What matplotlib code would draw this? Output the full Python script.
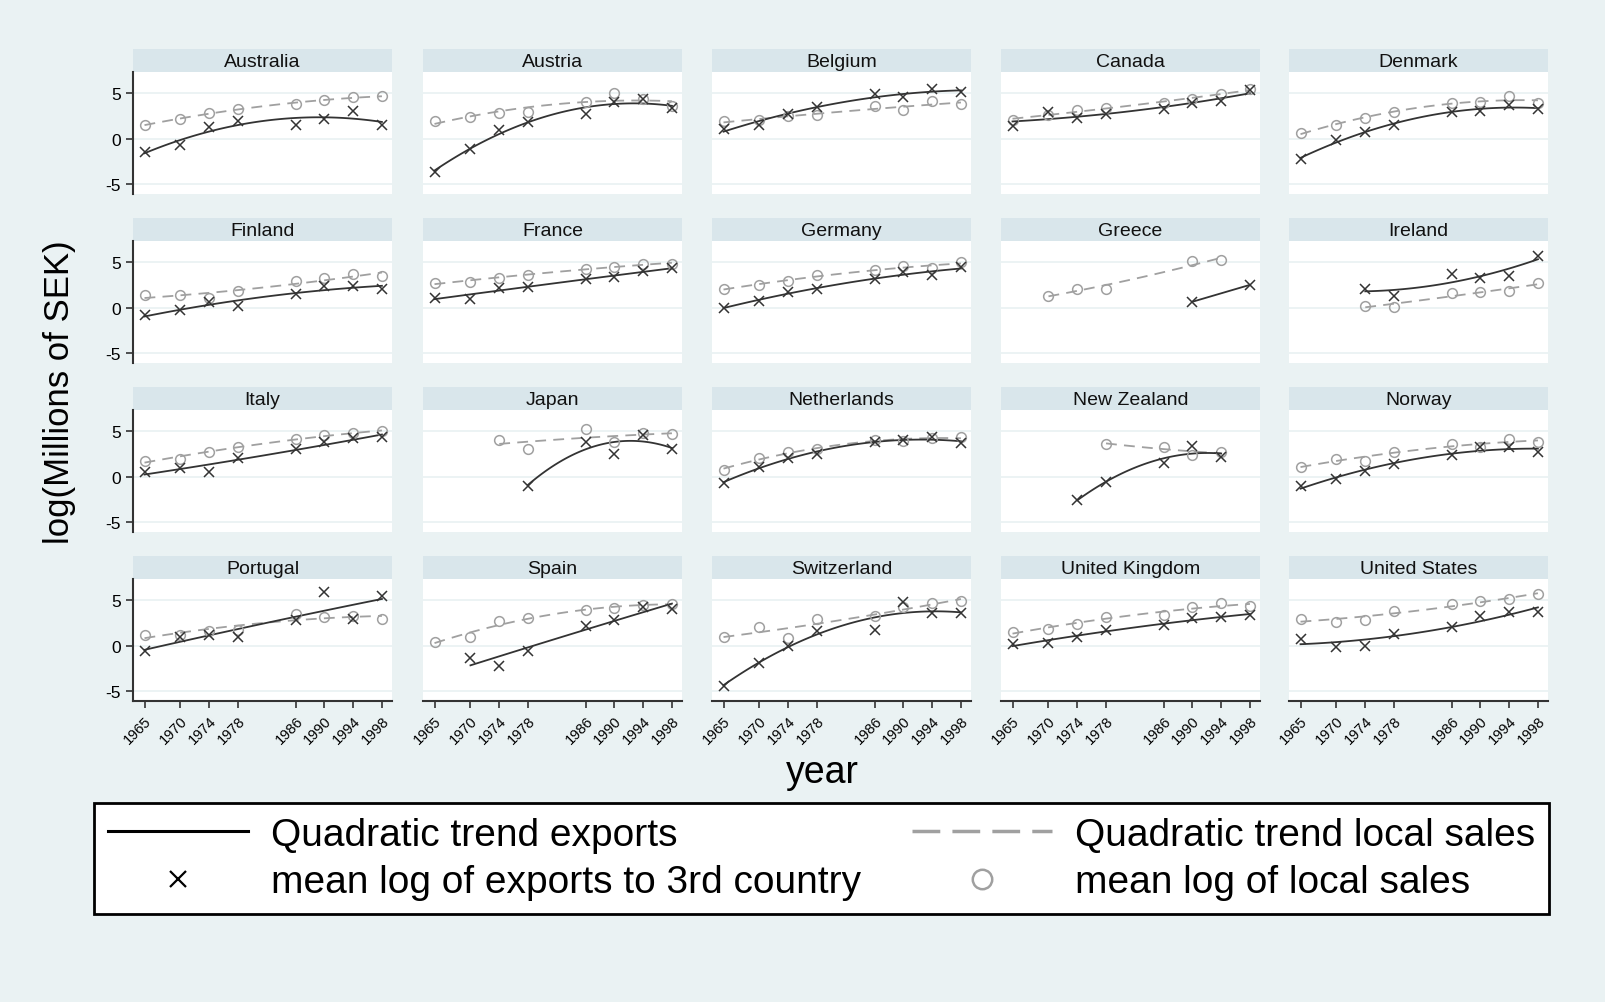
import numpy as np
import matplotlib
matplotlib.use("Agg")
import matplotlib.pyplot as plt
from matplotlib.lines import Line2D

plt.rcParams['font.family'] = ['Liberation Sans', 'DejaVu Sans']

nan = np.nan
years = [1965, 1970, 1974, 1978, 1986, 1990, 1994, 1998]
countries = ["Australia", "Austria", "Belgium", "Canada", "Denmark",
             "Finland", "France", "Germany", "Greece", "Ireland",
             "Italy", "Japan", "Netherlands", "New Zealand", "Norway",
             "Portugal", "Spain", "Switzerland", "United Kingdom", "United States"]

# mean log of exports to 3rd country (one row per country, one column per year)
exports = [
    [-1.5, -0.7, 1.3, 1.9, 1.45, 2.2, 3.05, 1.5],
    [-3.6, -1.15, 1.0, 1.8, 2.7, 4.0, 4.3, 3.4],
    [1.05, 1.5, 2.75, 3.5, 4.9, 4.55, 5.4, 5.15],
    [1.4, 2.95, 2.3, 2.7, 3.3, 3.9, 4.1, 5.3],
    [-2.25, -0.1, 0.7, 1.55, 2.95, 3.05, 3.7, 3.25],
    [-0.85, -0.3, 0.6, 0.2, 1.55, 2.4, 2.4, 2.05],
    [1.1, 1.0, 2.2, 2.3, 3.15, 3.4, 4.0, 4.3],
    [0.0, 0.7, 1.75, 2.1, 3.1, 3.9, 3.6, 4.45],
    [nan, nan, nan, nan, nan, 0.65, nan, 2.5],
    [nan, nan, 2.05, 1.3, 3.7, 3.3, 3.5, 5.7],
    [0.5, 0.9, 0.55, 2.1, 3.0, 3.8, 4.2, 4.3],
    [nan, nan, nan, -1.0, 3.8, 2.5, 4.6, 3.0],
    [-0.65, 1.1, 2.0, 2.5, 3.8, 4.05, 4.3, 3.7],
    [nan, nan, -2.5, -0.6, 1.5, 3.35, 2.2, nan],
    [-1.05, -0.3, 0.65, 1.4, 2.4, 3.25, 3.3, 2.7],
    [-0.55, 0.9, 1.2, 0.95, 2.85, 5.9, 2.9, 5.4],
    [nan, -1.3, -2.2, -0.55, 2.2, 2.85, 4.2, 4.05],
    [-4.4, -1.85, 0.0, 1.65, 1.7, 4.8, 3.55, 3.6],
    [0.2, 0.25, 1.0, 1.75, 2.3, 3.05, 3.15, 3.35],
    [0.75, -0.1, 0.0, 1.3, 2.05, 3.25, 3.7, 3.65],
]

# mean log of local sales
local_sales = [
    [1.45, 2.2, 2.8, 3.3, 3.8, 4.2, 4.55, 4.65],
    [1.9, 2.4, 2.8, 2.9, 4.0, 5.05, 4.3, 3.6],
    [1.9, 2.0, 2.5, 2.6, 3.6, 3.1, 4.1, 3.8],
    [2.1, 2.6, 3.1, 3.4, 3.9, 4.4, 4.9, 5.4],
    [0.65, 1.45, 2.3, 2.9, 3.9, 4.0, 4.65, 3.9],
    [1.35, 1.35, 1.05, 1.85, 2.9, 3.2, 3.7, 3.45],
    [2.7, 2.85, 3.3, 3.6, 4.25, 4.5, 4.8, 4.8],
    [2.05, 2.5, 2.9, 3.6, 4.1, 4.55, 4.3, 5.0],
    [nan, 1.25, 2.1, 2.05, nan, 5.1, 5.2, nan],
    [nan, nan, 0.2, 0.1, 1.6, 1.7, 1.8, 2.7],
    [1.75, 1.95, 2.7, 3.25, 4.15, 4.55, 4.8, 4.95],
    [nan, nan, 4.0, 3.0, 5.2, 3.8, 4.8, 4.7],
    [0.75, 2.05, 2.7, 3.0, 4.0, 3.95, 4.2, 4.3],
    [nan, nan, nan, 3.6, 3.3, 2.4, 2.7, nan],
    [1.1, 1.9, 1.75, 2.75, 3.6, 3.25, 4.15, 3.8],
    [1.2, 1.2, 1.6, 1.7, 3.5, 3.1, 3.3, 2.9],
    [0.4, 1.0, 2.65, 3.0, 3.95, 4.1, 4.45, 4.6],
    [0.95, 2.0, 0.85, 2.95, 3.2, 4.2, 4.7, 4.9],
    [1.45, 1.85, 2.4, 3.15, 3.4, 4.25, 4.7, 4.3],
    [2.95, 2.6, 2.85, 3.75, 4.55, 4.85, 5.15, 5.65],
]

BG = "#eaf2f3"
STRIP = "#d9e6eb"
DARK = "#333333"
GREY = "#a0a0a0"


def qfit(x, y):
    # quadratic trend over the observed range, like Stata's qfit
    x = np.asarray(x, float)
    y = np.asarray(y, float)
    ok = ~np.isnan(y)
    xs, ys = x[ok], y[ok]
    deg = min(2, len(xs) - 1)
    c = np.polyfit(xs - 1980, ys, deg)
    xx = np.linspace(xs.min(), xs.max(), 100)
    return xx, np.polyval(c, xx - 1980)


W, H = 1606, 1003
fig = plt.figure(figsize=(W / 100, H / 100), dpi=100, facecolor=BG)

lefts = [133, 423, 712, 1001, 1289]
pw, ph, sh = 259, 122, 23

for i, name in enumerate(countries):
    r, c = divmod(i, 5)
    top = 50 + 169 * r
    x0 = lefts[c]
    # strip with the country name
    sax = fig.add_axes([x0 / W, 1 - (top + sh) / H, pw / W, sh / H])
    sax.set_facecolor(STRIP)
    sax.set_xticks([]); sax.set_yticks([])
    for s in sax.spines.values():
        s.set_visible(False)
    sax.text(0.5, 0.45, name, ha='center', va='center', fontsize=14, color='#111111',
             transform=sax.transAxes)

    ax = fig.add_axes([x0 / W, 1 - (top + sh + ph) / H, pw / W, ph / H])
    ax.set_facecolor('white')
    ax.set_xlim(1963.4, 1999.4)
    ax.set_ylim(-6.05, 7.3)
    for yv in (-5, 0, 5):
        ax.axhline(yv, color=BG, lw=1.3, zorder=0)

    ex = np.array(exports[i], float)
    lo = np.array(local_sales[i], float)
    xx, yy = qfit(years, lo)
    ax.plot(xx, yy, color=GREY, lw=1.3, linestyle=(0, (6, 4)), zorder=2)
    xx, yy = qfit(years, ex)
    ax.plot(xx, yy, color=DARK, lw=1.3, zorder=3)
    ax.plot(years, lo, linestyle='none', marker='o', ms=7, mfc='none',
            mec=GREY, mew=1.1, zorder=4)
    ax.plot(years, ex, linestyle='none', marker='x', ms=7.5, color=DARK,
            mew=1.1, zorder=5)

    for s in ax.spines.values():
        s.set_visible(False)
    ax.set_yticks([-5, 0, 5])
    ax.set_xticks(years)
    if c == 0:
        ax.spines['left'].set_visible(True)
        ax.spines['left'].set_color(DARK)
        ax.spines['left'].set_linewidth(1.5)
        ax.tick_params(axis='y', length=5, width=1.2, color=DARK, labelsize=12.5)
        ax.set_yticklabels(['-5', '0', '5'])
    else:
        ax.tick_params(axis='y', length=0, labelleft=False)
    if r == 3:
        ax.spines['bottom'].set_visible(True)
        ax.spines['bottom'].set_color(DARK)
        ax.spines['bottom'].set_linewidth(1.5)
        ax.tick_params(axis='x', length=5, width=1.2, color=DARK, labelsize=10.5)
        ax.set_xticklabels([str(y) for y in years], rotation=45, ha='right',
                           rotation_mode='anchor')
    else:
        ax.tick_params(axis='x', length=0, labelbottom=False)

fig.text(60 / W, 1 - 392 / H, 'log(Millions of SEK)', rotation=90, ha='center',
         va='center', fontsize=25)
fig.text(822 / W, 1 - 773 / H, 'year', ha='center', va='center', fontsize=27)

handles = [
    Line2D([], [], color='black', lw=2.2),
    Line2D([], [], linestyle='none', marker='x', color='black', ms=12, mew=1.6),
    Line2D([], [], color=GREY, lw=2.5, linestyle=(0, (8, 3.5))),
    Line2D([], [], linestyle='none', marker='o', mfc='none', mec=GREY, ms=14, mew=1.8),
]
labels = ['Quadratic trend exports', 'mean log of exports to 3rd country',
          'Quadratic trend local sales', 'mean log of local sales']
leg = fig.legend(handles, labels, ncol=2, loc='upper left',
                 bbox_to_anchor=(94 / W, 1 - 805 / H, (1549 - 94) / W, 0.001),
                 mode='expand', fontsize=28, frameon=True, fancybox=False,
                 framealpha=1, handlelength=3.6, handletextpad=0.6, columnspacing=1.0,
                 borderaxespad=0, borderpad=0.35, labelspacing=0.3)
leg.get_frame().set_facecolor('white')
leg.get_frame().set_edgecolor('black')
leg.get_frame().set_linewidth(2)

fig.savefig('out.png', dpi=100, facecolor=BG)
